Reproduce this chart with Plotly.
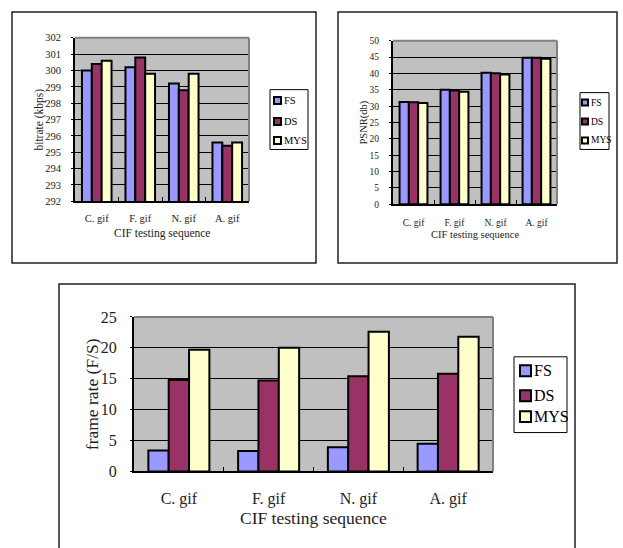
import plotly.graph_objects as go

categories = ["C. gif", "F. gif", "N. gif", "A. gif"]
series_names = ["FS", "DS", "MYS"]
colors = ["#9999FF", "#993366", "#FFFFCC"]

bitrate_fs = [300.0, 300.2, 299.2, 295.6]
bitrate_ds = [300.4, 300.8, 298.8, 295.4]
bitrate_mys = [300.6, 299.8, 299.8, 295.6]

psnr_fs = [31.3, 35.0, 40.2, 44.8]
psnr_ds = [31.2, 34.8, 40.1, 44.8]
psnr_mys = [31.0, 34.4, 39.7, 44.5]

fps_fs = [3.4, 3.3, 3.9, 4.5]
fps_ds = [14.8, 14.7, 15.4, 15.8]
fps_mys = [19.7, 20.0, 22.6, 21.8]

W, H = 623, 548
FONT = "Liberation Serif"
# vertical placement correction measured from the photographed page
VA, VB = 8.1, 0.972


def px(x):
    return x / W


def py(y):
    return 1 - ((y - VA) / VB) / H


fig = go.Figure()

charts = [
    dict(data=[bitrate_fs, bitrate_ds, bitrate_mys], xa="x", ya="y",
         dom=(75, 249, 38, 202), rng=[292, 302], dt=1, fs=10.5, tfs=11.5,
         ytitle="bitrate (kbps)", ytx=40, xtitley=234,
         legbox=(270, 90, 308, 150), legx=274, legys=(101, 122, 141), icon=7, legfs=10.5,
         stand=8, xstand=6),
    dict(data=[psnr_fs, psnr_ds, psnr_mys], xa="x2", ya="y2",
         dom=(393, 557, 41, 205), rng=[0, 50], dt=5, fs=9.5, tfs=10.5,
         ytitle="PSNR(db)", ytx=364, xtitley=235,
         legbox=(580, 93, 609, 150), legx=582, legys=(103, 122, 141), icon=6, legfs=9.5,
         stand=8, xstand=8),
    dict(data=[fps_fs, fps_ds, fps_mys], xa="x3", ya="y3",
         dom=(134, 493, 318, 473), rng=[0, 25], dt=5, fs=16, tfs=17.5,
         ytitle="frame rate (F/S)", ytx=92, xtitley=520,
         legbox=(514, 358, 567, 434), legx=520, legys=(372, 397, 418), icon=11, legfs=16,
         stand=10, xstand=11),
]

for ci, c in enumerate(charts):
    for si, (vals, name, col) in enumerate(zip(c["data"], series_names, colors)):
        fig.add_trace(go.Bar(
            x=categories, y=vals, name=name, xaxis=c["xa"], yaxis=c["ya"],
            marker=dict(color=col, line=dict(color="black", width=2)),
            showlegend=False,
        ))

layout = dict(
    width=W, height=H, margin=dict(l=0, r=0, t=0, b=0, pad=0),
    paper_bgcolor="white", plot_bgcolor="#C0C0C0",
    barmode="group", bargroupgap=0, bargap=0.32, showlegend=False,
    font=dict(family=FONT, color="black"),
)

shapes = []
annotations = []
for i, c in enumerate(charts):
    sfx = "" if i == 0 else str(i + 1)
    x0, x1, y0, y1 = c["dom"]
    layout["xaxis" + sfx] = dict(
        domain=[px(x0), px(x1)], anchor="y" + sfx, type="category",
        showline=True, linecolor="black", linewidth=2,
        ticks="inside", tickson="boundaries", ticklen=4, tickcolor="black",
        tickfont=dict(size=c["fs"], family=FONT, color="#222"), showgrid=False,
        ticklabelstandoff=c["xstand"], fixedrange=True,
    )
    layout["yaxis" + sfx] = dict(
        domain=[py(y1), py(y0)], anchor="x" + sfx, range=c["rng"], dtick=c["dt"],
        showline=True, linecolor="black", linewidth=2,
        showgrid=True, gridcolor="black", gridwidth=1, zeroline=False,
        ticks="outside", ticklen=2, tickcolor="black",
        tickfont=dict(size=c["fs"], family=FONT, color="#222"),
        ticklabelstandoff=c["stand"], fixedrange=True,
    )
    shapes.append(dict(type="line", xref="paper", yref="paper",
                       x0=px(x0), x1=px(x1), y0=py(y0), y1=py(y0),
                       line=dict(color="#808080", width=2)))
    shapes.append(dict(type="line", xref="paper", yref="paper",
                       x0=px(x1), x1=px(x1), y0=py(y0), y1=py(y1),
                       line=dict(color="#808080", width=2)))
    lx0, ly0, lx1, ly1 = c["legbox"]
    shapes.append(dict(type="rect", xref="paper", yref="paper",
                       x0=px(lx0), x1=px(lx1), y0=py(ly1), y1=py(ly0),
                       fillcolor="white", line=dict(color="black", width=1)))
    s = c["icon"]
    for name, col, yc in zip(series_names, colors, c["legys"]):
        shapes.append(dict(type="rect", xref="paper", yref="paper",
                           x0=px(c["legx"]), x1=px(c["legx"] + s),
                           y0=py(yc + s / 2), y1=py(yc - s / 2),
                           fillcolor=col, line=dict(color="black", width=2)))
        annotations.append(dict(text=name, xref="paper", yref="paper",
                                x=px(c["legx"] + s + 1), y=py(yc), showarrow=False,
                                xanchor="left", yanchor="middle",
                                font=dict(size=c["legfs"], family=FONT, color="black")))
    annotations.append(dict(text=c["ytitle"], xref="paper", yref="paper",
                            x=px(c["ytx"]), y=py((y0 + y1) / 2), textangle=-90,
                            showarrow=False, font=dict(size=c["tfs"], family=FONT, color="#222"),
                            xanchor="center", yanchor="middle"))
    annotations.append(dict(text="CIF testing sequence", xref="paper", yref="paper",
                            x=px((x0 + x1) / 2), y=py(c["xtitley"]),
                            showarrow=False, font=dict(size=c["tfs"], family=FONT, color="#222"),
                            xanchor="center", yanchor="middle"))

for (bx0, by0, bx1, by1) in [(12, 12, 316, 264), (338, 12, 617, 264), (59, 285, 575, 600)]:
    shapes.append(dict(type="rect", xref="paper", yref="paper",
                       x0=px(bx0), x1=px(bx1), y0=py(by1), y1=py(by0),
                       line=dict(color="#222", width=1.5)))

layout["shapes"] = shapes
layout["annotations"] = annotations
fig.update_layout(**layout)
fig.write_html(
    "out.html",
    config={"displayModeBar": False},
    post_script="document.documentElement.style.margin='0';document.body.style.margin='0';"
                "document.body.style.overflow='hidden';",
)
